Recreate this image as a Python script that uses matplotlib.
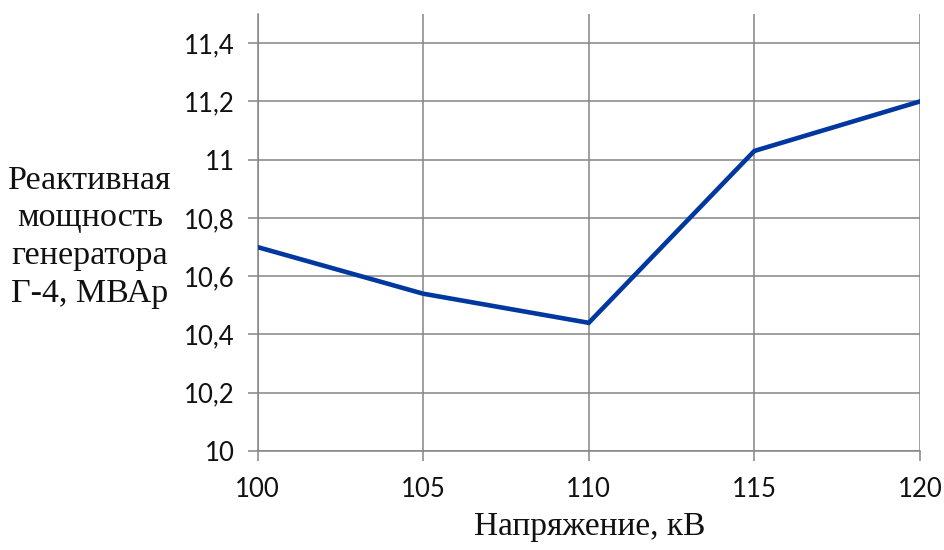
import matplotlib
matplotlib.use("Agg")
import matplotlib.pyplot as plt

# Generator G-4 reactive power versus bus voltage
voltage_kv = [100, 105, 110, 115, 120]
reactive_mvar = [10.70, 10.54, 10.44, 11.03, 11.20]
y_ticks = [10.0, 10.2, 10.4, 10.6, 10.8, 11.0, 11.2, 11.4]
y_tick_labels = ["10", "10,2", "10,4", "10,6", "10,8", "11", "11,2", "11,4"]
x_ticks = [100, 105, 110, 115, 120]
x_tick_labels = ["100", "105", "110", "115", "120"]

grid_color = "#858585"
line_color = "#0038A0"

fig = plt.figure(figsize=(9.45, 5.5), dpi=100)
ax = fig.add_axes([0.2725, 0.18, 0.701, 0.7945])

ax.plot(voltage_kv, reactive_mvar, color=line_color, linewidth=3.3,
        solid_joinstyle="miter", zorder=3)

ax.set_xlim(100, 120)
ax.set_ylim(10.0, 11.5)
ax.set_xticks(x_ticks)
ax.set_xticklabels(x_tick_labels)
ax.set_yticks(y_ticks)
ax.set_yticklabels(y_tick_labels)

ax.grid(True, color=grid_color, linewidth=1.1)
ax.set_axisbelow(True)
for side in ("top", "right"):
    ax.spines[side].set_visible(False)
for side in ("left", "bottom"):
    ax.spines[side].set_color(grid_color)
    ax.spines[side].set_linewidth(1.1)

tick_font = ["Lato", "DejaVu Sans"]
ax.tick_params(axis="both", direction="out", length=7.5, width=1.1,
               color=grid_color, labelcolor="#111111", labelsize=18.5)
ax.tick_params(axis="x", pad=11)
ax.tick_params(axis="y", pad=9)
for lbl in ax.get_xticklabels() + ax.get_yticklabels():
    lbl.set_family(tick_font)

serif = ["Liberation Serif", "DejaVu Serif"]
fig.text(590 / 945, 1 - 527 / 550, "Напряжение, кВ", ha="center", va="center",
         fontsize=24, family=serif, color="#111111")
fig.text(90 / 945, 1 - 237 / 550, "Реактивная\nмощность\nгенератора\nГ-4, МВАр",
         ha="center", va="center", multialignment="center",
         fontsize=24.5, family=serif, color="#111111", linespacing=1.3)

fig.savefig("out.png", dpi=100)
